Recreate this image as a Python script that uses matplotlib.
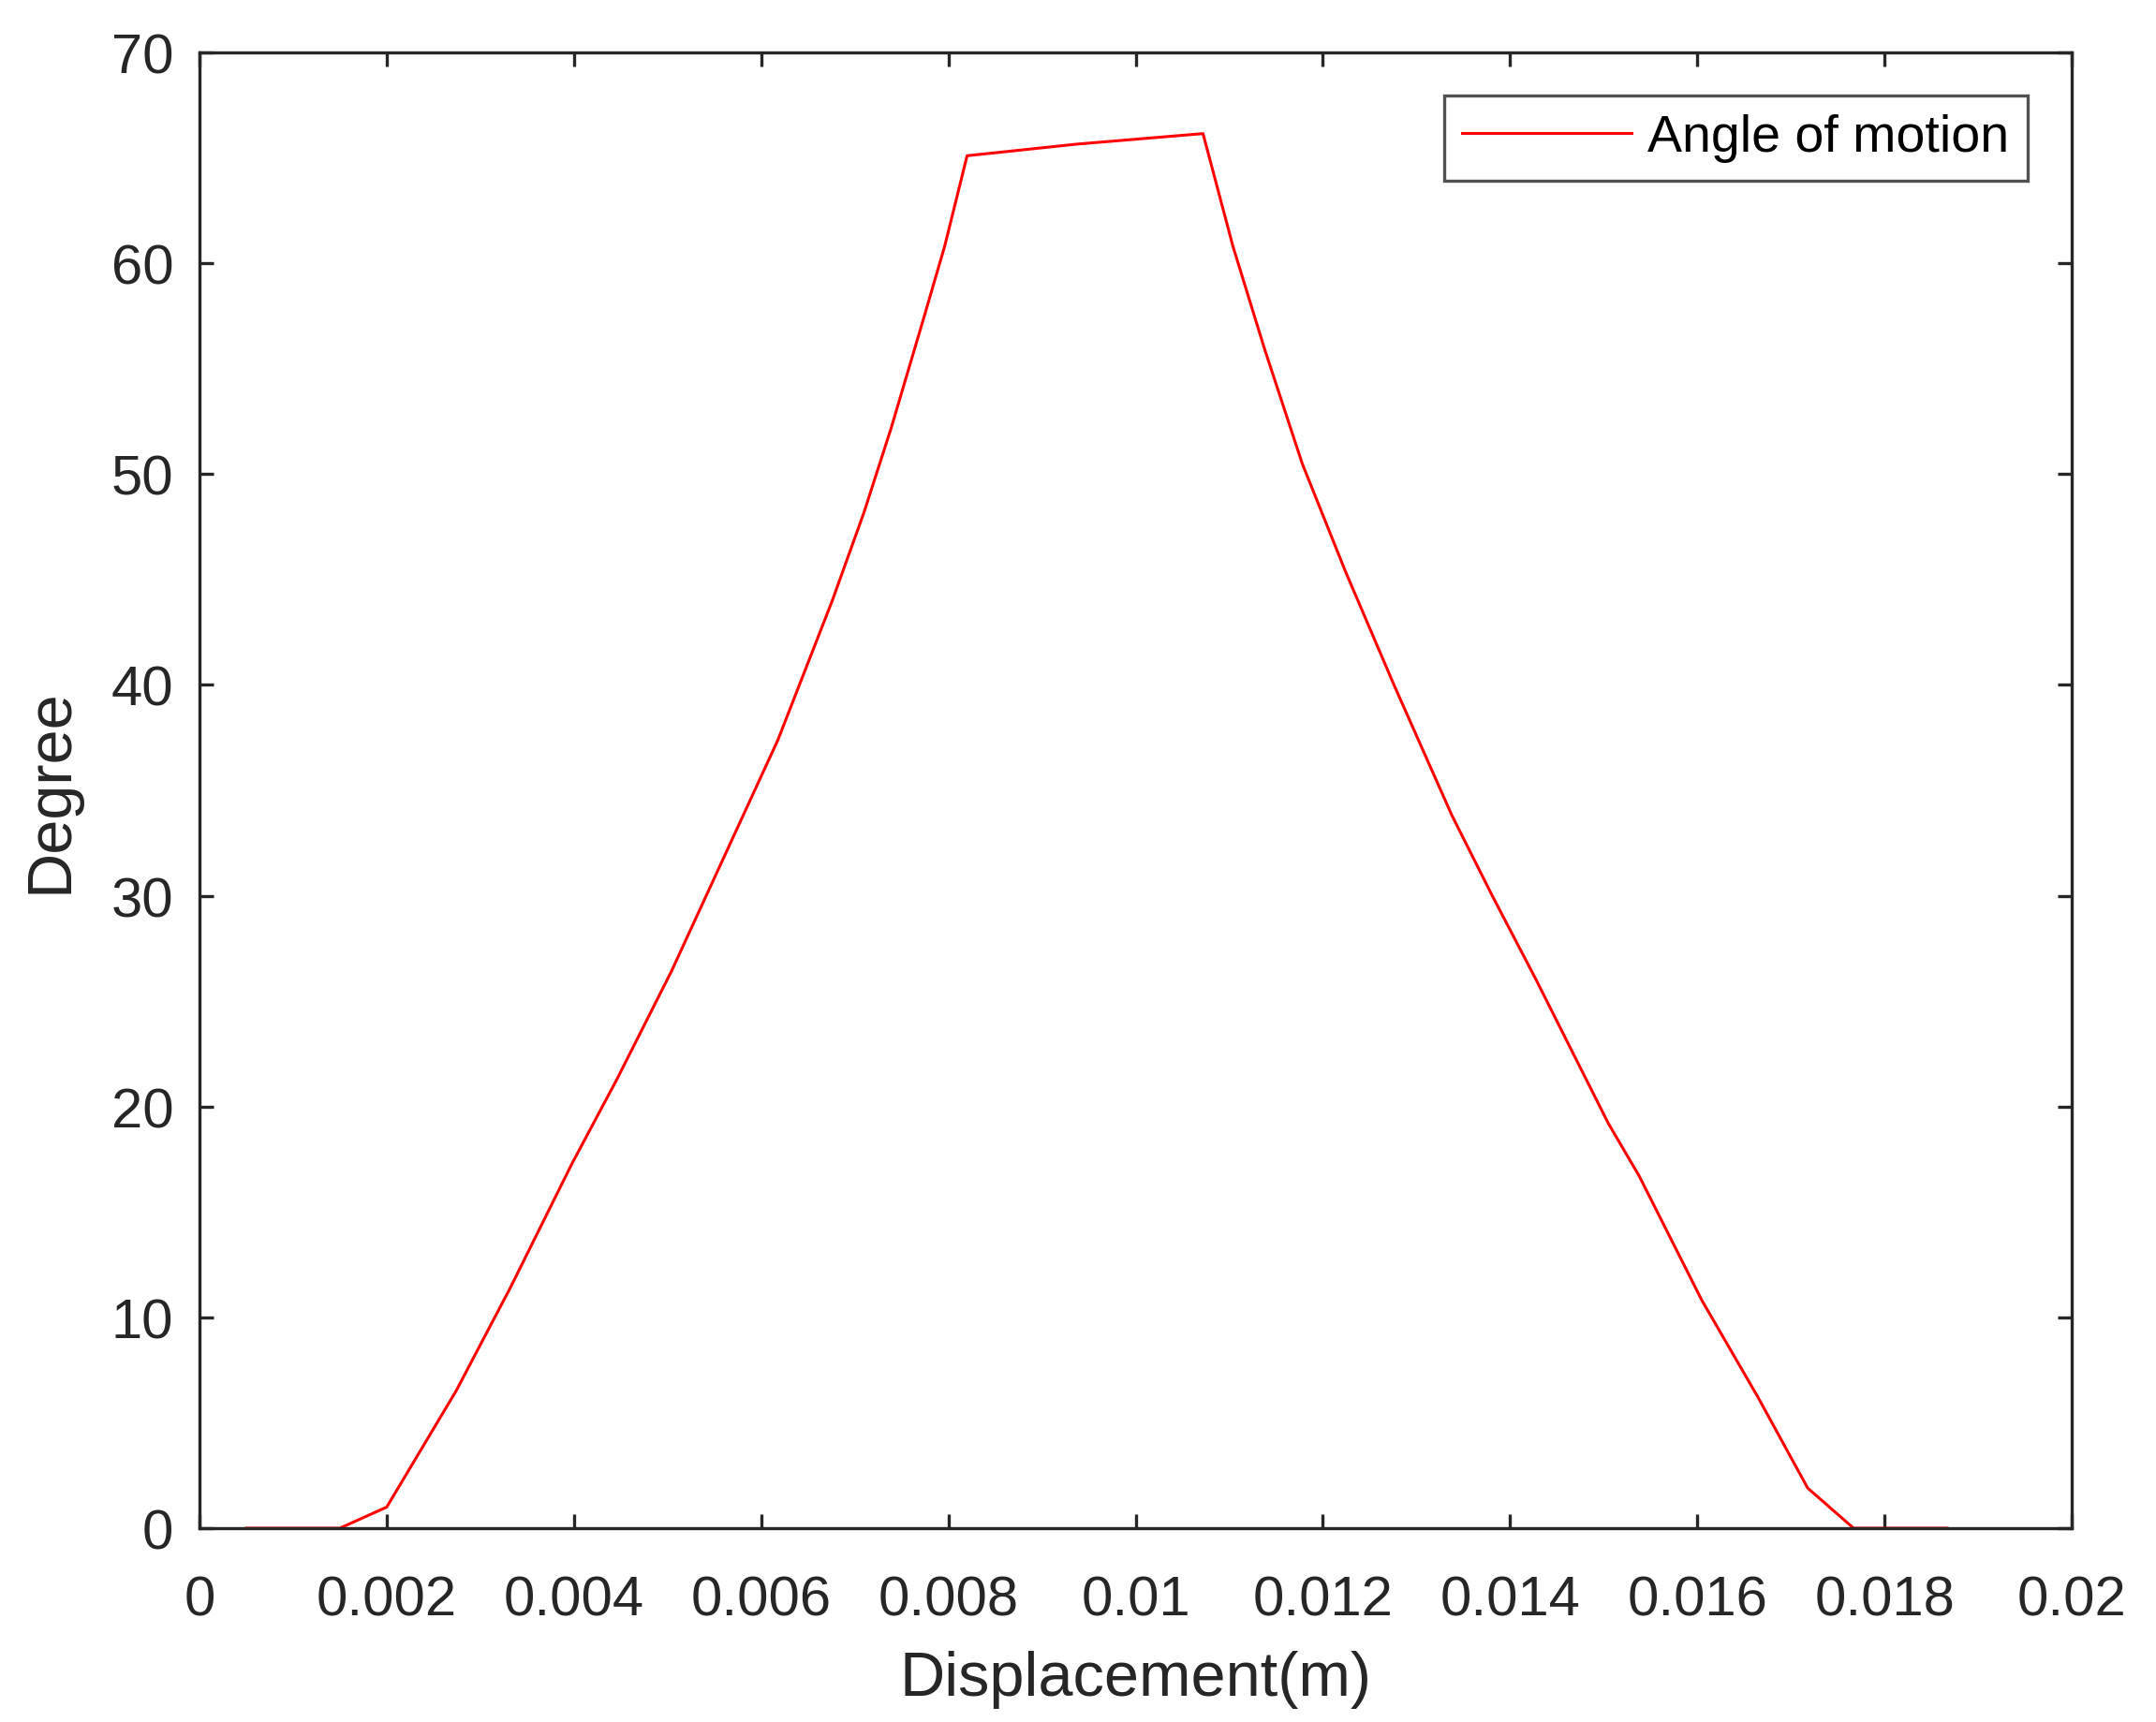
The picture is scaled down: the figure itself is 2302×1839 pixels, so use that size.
import matplotlib
matplotlib.use("Agg")
import matplotlib.pyplot as plt
from matplotlib.ticker import FixedLocator, FixedFormatter

# Data
displacement = [0.0005, 0.0015, 0.0020, 0.00274, 0.00332, 0.00398, 0.00446, 0.00504,
                0.00561, 0.00618, 0.00676, 0.00710, 0.00739, 0.00773, 0.00796,
                0.00820, 0.00937, 0.01072, 0.01104, 0.01138, 0.01178, 0.01224,
                0.01276, 0.01338, 0.01381, 0.01428, 0.01471, 0.01505, 0.01538,
                0.01605, 0.01665, 0.01718, 0.01767, 0.01867]
angle = [0.0, 0.0, 1.0, 6.5, 11.4, 17.3, 21.3, 26.4,
         31.9, 37.4, 44.0, 48.2, 52.2, 57.3, 60.8,
         65.1, 65.65, 66.15, 60.8, 55.9, 50.5, 45.4,
         40.0, 33.8, 30.0, 26.0, 22.2, 19.2, 16.7,
         10.8, 6.2, 1.9, 0.0, 0.0]

x_ticks = [0, 0.002, 0.004, 0.006, 0.008, 0.01, 0.012, 0.014, 0.016, 0.018, 0.02]
x_tick_labels = ["0", "0.002", "0.004", "0.006", "0.008", "0.01", "0.012",
                 "0.014", "0.016", "0.018", "0.02"]
y_ticks = [0, 10, 20, 30, 40, 50, 60, 70]
y_tick_labels = ["0", "10", "20", "30", "40", "50", "60", "70"]

series_label = "Angle of motion"
x_label = "Displacement(m)"
y_label = "Degree"

plt.rcParams['font.family'] = ['Liberation Sans', 'DejaVu Sans']
text_color = "#262626"
axis_color = "#262626"
fs = 43

fig = plt.figure(figsize=(23.02, 18.40), dpi=100)
ax = fig.add_axes([213/2302, 1 - 1633/1840, (2212-213)/2302, (1633-57)/1840])

ax.plot(displacement, angle, color="#ff0000", linewidth=2.2, label=series_label)

ax.set_xlim(0, 0.02)
ax.set_ylim(0, 70)
ax.xaxis.set_major_locator(FixedLocator(x_ticks))
ax.xaxis.set_major_formatter(FixedFormatter(x_tick_labels))
ax.yaxis.set_major_locator(FixedLocator(y_ticks))
ax.yaxis.set_major_formatter(FixedFormatter(y_tick_labels))

for s in ax.spines.values():
    s.set_color(axis_color)
    s.set_linewidth(2.4)

ax.tick_params(axis='both', which='major', direction='in', length=11, width=2.4,
               colors=axis_color, labelcolor=text_color, labelsize=fs,
               top=True, right=True)
ax.tick_params(axis='x', pad=36)
ax.tick_params(axis='y', pad=20)

ax.set_xlabel(x_label, fontsize=48, color=text_color, labelpad=18)
ax.set_ylabel(y_label, fontsize=48, color=text_color, labelpad=24)

leg = ax.legend(loc='upper right', bbox_to_anchor=((2165-213)/1999, (1633-103)/1576),
                borderaxespad=0, fontsize=40, frameon=True, fancybox=False,
                handlelength=3.25, handletextpad=0.32, borderpad=0.35)
leg.get_frame().set_edgecolor(axis_color)
leg.get_frame().set_linewidth(2.4)
for t in leg.get_texts():
    t.set_color("black")

fig.savefig("out.png", dpi=100, facecolor="white")
